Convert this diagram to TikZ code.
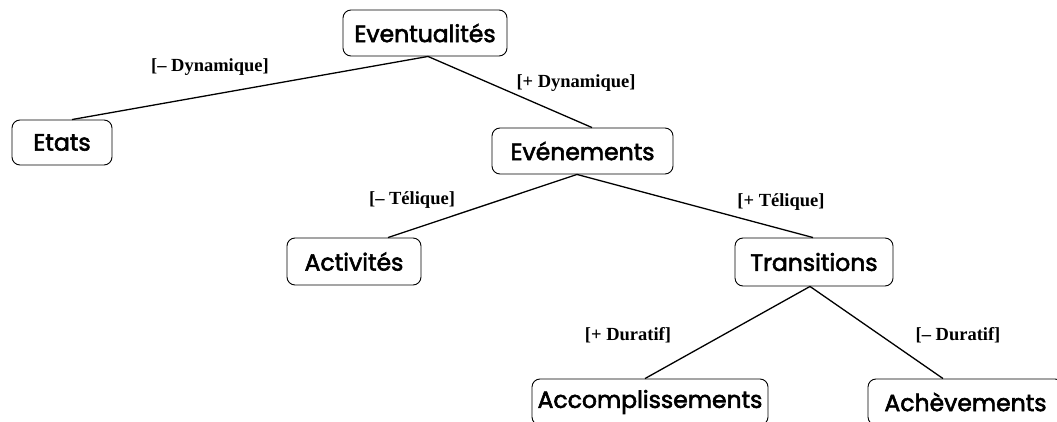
\documentclass[tikz,border=0pt]{standalone}
\usepackage{fontspec}
\newfontfamily\nodefont{Poppins}[FakeBold=2.4]
\newfontfamily\featfont{Liberation Serif}
\tikzset{
  box/.style={draw, rounded corners=8pt, line width=0.9pt, font=\nodefont\fontsize{23.5}{27}\selectfont, inner sep=0pt, anchor=center},
  feat/.style={font=\featfont\bfseries\fontsize{18.5}{21}\selectfont, inner sep=0pt},
  edge/.style={line width=1.3pt}
}
\begin{document}
\begin{tikzpicture}[x=1pt,y=-1pt]
\clip (0,0) rectangle (1057,422);
\fill[white] (0,0) rectangle (1057,422);
\node[box, minimum width=164pt, minimum height=46pt] (ev) at (425,33) {Eventualités};
\node[box, minimum width=100pt, minimum height=45pt] (et) at (62,142.5) {Etats};
\node[box, minimum width=181pt, minimum height=46pt] (evn) at (582.5,151) {Evénements};
\node[box, minimum width=134pt, minimum height=47pt] (act) at (354,261.5) {Activités};
\node[box, minimum width=158pt, minimum height=48pt] (tr) at (814,262) {Transitions};
\node[box, minimum width=236pt, minimum height=46pt] (acc) at (650,402) {Accomplissements};
\node[box, minimum width=195pt, minimum height=46pt] (ach) at (965.5,402) {Achèvements};

\draw[edge] ([xshift=3pt]ev.south) -- ([xshift=10pt]et.north);
\draw[edge] ([xshift=3pt]ev.south) -- ([xshift=9.5pt]evn.north);
\draw[edge] ([xshift=-5.5pt]evn.south) -- ([xshift=34pt]act.north);
\draw[edge] ([xshift=-5.5pt]evn.south) -- ([xshift=-1pt]tr.north);
\draw[edge] ([xshift=-4pt]tr.south) -- ([xshift=-5pt]acc.north);
\draw[edge] ([xshift=-4pt]tr.south) -- ([xshift=-22.5pt]ach.north);

\node[feat] (l1) at (210,67) {[– Dynamique]};
\node[feat] (l2) at (576,83) {[+ Dynamique]};
\node[feat] (l3) at (412,200) {[– Télique]};
\node[feat] (l4) at (781,202) {[+ Télique]};
\node[feat] (l5) at (628,335) {[+ Duratif]};
\node[feat] (l6) at (958,335) {[– Duratif]};
\end{tikzpicture}
\end{document}
